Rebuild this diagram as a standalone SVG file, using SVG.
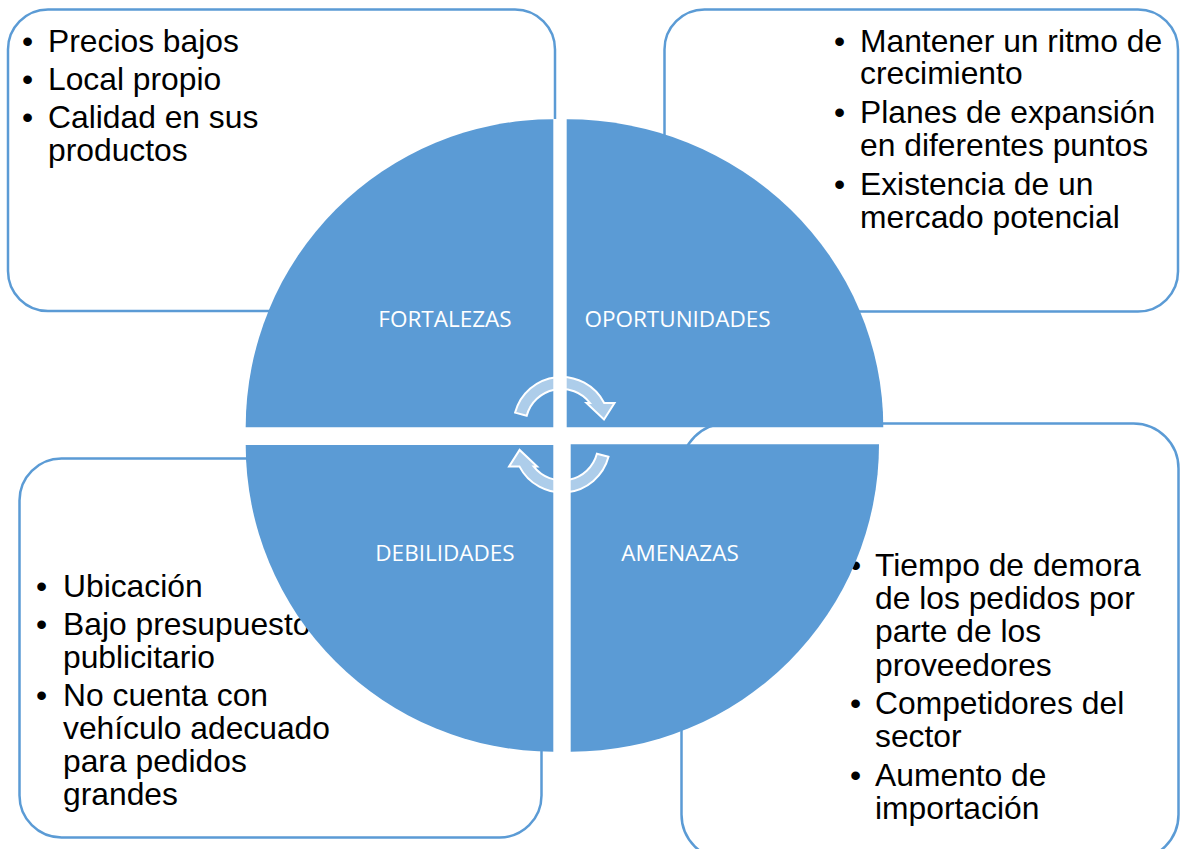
<svg xmlns="http://www.w3.org/2000/svg" xmlns:xlink="http://www.w3.org/1999/xlink" width="1182" height="849" viewBox="0 0 1182 849">
<style>
.box{fill:#ffffff;stroke:#5B9BD5;stroke-width:2.5}
.quad{fill:#5B9BD5}
.t{font-family:"Liberation Sans",Arial,sans-serif;font-size:31.8px;fill:#000000}
.lbl{font-family:"Open Sans","Liberation Sans",sans-serif;font-size:22.5px;fill:#ffffff;text-anchor:middle}
.arrow{fill:#ffffff;fill-opacity:0.5;stroke:#ffffff;stroke-width:2}
</style>
<defs>
<path id="carrow" d="M 515.1,412.6 A 48 48 0 0 1 604.2,403 L 614.5,403 L 604,419.5 L 586.5,403 L 590,403 A 36 36 0 0 0 526.7,415.7 Z"/>
</defs>
<rect width="1182" height="849" fill="#ffffff"/>
<g id="fortalezas">
<path class="box" d="M 555,119 L 555,50 A 40 40 0 0 0 515,9.5 L 48,9.5 A 40 40 0 0 0 8,50 L 8,271 A 40 40 0 0 0 48,311 L 300,311"/>
<text class="t"><tspan x="22" y="52">•</tspan><tspan x="48" y="52">Precios bajos</tspan></text>
<text class="t"><tspan x="22" y="90">•</tspan><tspan x="48" y="90">Local propio</tspan></text>
<text class="t"><tspan x="22" y="128">•</tspan><tspan x="48" y="128">Calidad en sus</tspan><tspan x="48" y="160.5">productos</tspan></text>
</g>
<g id="oportunidades">
<rect class="box" x="664.5" y="9.5" width="513.5" height="302" rx="40"/>
<text class="t"><tspan x="834" y="52">•</tspan><tspan x="860" y="52">Mantener un ritmo de</tspan><tspan x="860" y="84">crecimiento</tspan></text>
<text class="t"><tspan x="834" y="123">•</tspan><tspan x="860" y="123">Planes de expansión</tspan><tspan x="860" y="156">en diferentes puntos</tspan></text>
<text class="t"><tspan x="834" y="195">•</tspan><tspan x="860" y="195">Existencia de un</tspan><tspan x="860" y="228">mercado potencial</tspan></text>
</g>
<g id="debilidades">
<rect class="box" x="19.5" y="458.5" width="522" height="379" rx="42"/>
<text class="t"><tspan x="36" y="597">•</tspan><tspan x="63" y="597">Ubicación</tspan></text>
<text class="t"><tspan x="36" y="635">•</tspan><tspan x="63" y="635">Bajo presupuesto</tspan><tspan x="63" y="668">publicitario</tspan></text>
<text class="t"><tspan x="36" y="706">•</tspan><tspan x="63" y="706">No cuenta con</tspan><tspan x="63" y="739">vehículo adecuado</tspan><tspan x="63" y="772">para pedidos</tspan><tspan x="63" y="805">grandes</tspan></text>
</g>
<g id="amenazas">
<rect class="box" x="681.5" y="423.5" width="497" height="436" rx="45"/>
<text class="t"><tspan x="850" y="576">•</tspan><tspan x="875" y="576">Tiempo de demora</tspan><tspan x="875" y="609">de los pedidos por</tspan><tspan x="875" y="642">parte de los</tspan><tspan x="875" y="675.5">proveedores</tspan></text>
<text class="t"><tspan x="850" y="714">•</tspan><tspan x="875" y="714">Competidores del</tspan><tspan x="875" y="747">sector</tspan></text>
<text class="t"><tspan x="850" y="786">•</tspan><tspan x="875" y="786">Aumento de</tspan><tspan x="875" y="818.5">importación</tspan></text>
</g>
<g id="matrix">
<path class="quad" d="M 553.3,427.3 L 245.7,427.3 A 307.6 308 0 0 1 553.3,119.3 Z"/>
<path class="quad" d="M 566.7,427.3 L 566.7,119.3 A 316.6 308 0 0 1 883.3,427.3 Z"/>
<path class="quad" d="M 553.3,445 L 553.3,751.7 A 307.6 306.7 0 0 1 245.7,445 Z"/>
<path class="quad" d="M 570.7,444.3 L 879,444.3 A 308.3 307.4 0 0 1 570.7,751.7 Z"/>
<text class="lbl" x="445" y="327">FORTALEZAS</text>
<text class="lbl" x="677.5" y="327">OPORTUNIDADES</text>
<text class="lbl" x="445" y="561">DEBILIDADES</text>
<text class="lbl" x="680" y="561">AMENAZAS</text>
</g>
<g id="connectors">
<use xlink:href="#carrow" class="arrow"/>
<use xlink:href="#carrow" class="arrow" transform="rotate(180 561.8 434.7)"/>
</g>
</svg>
